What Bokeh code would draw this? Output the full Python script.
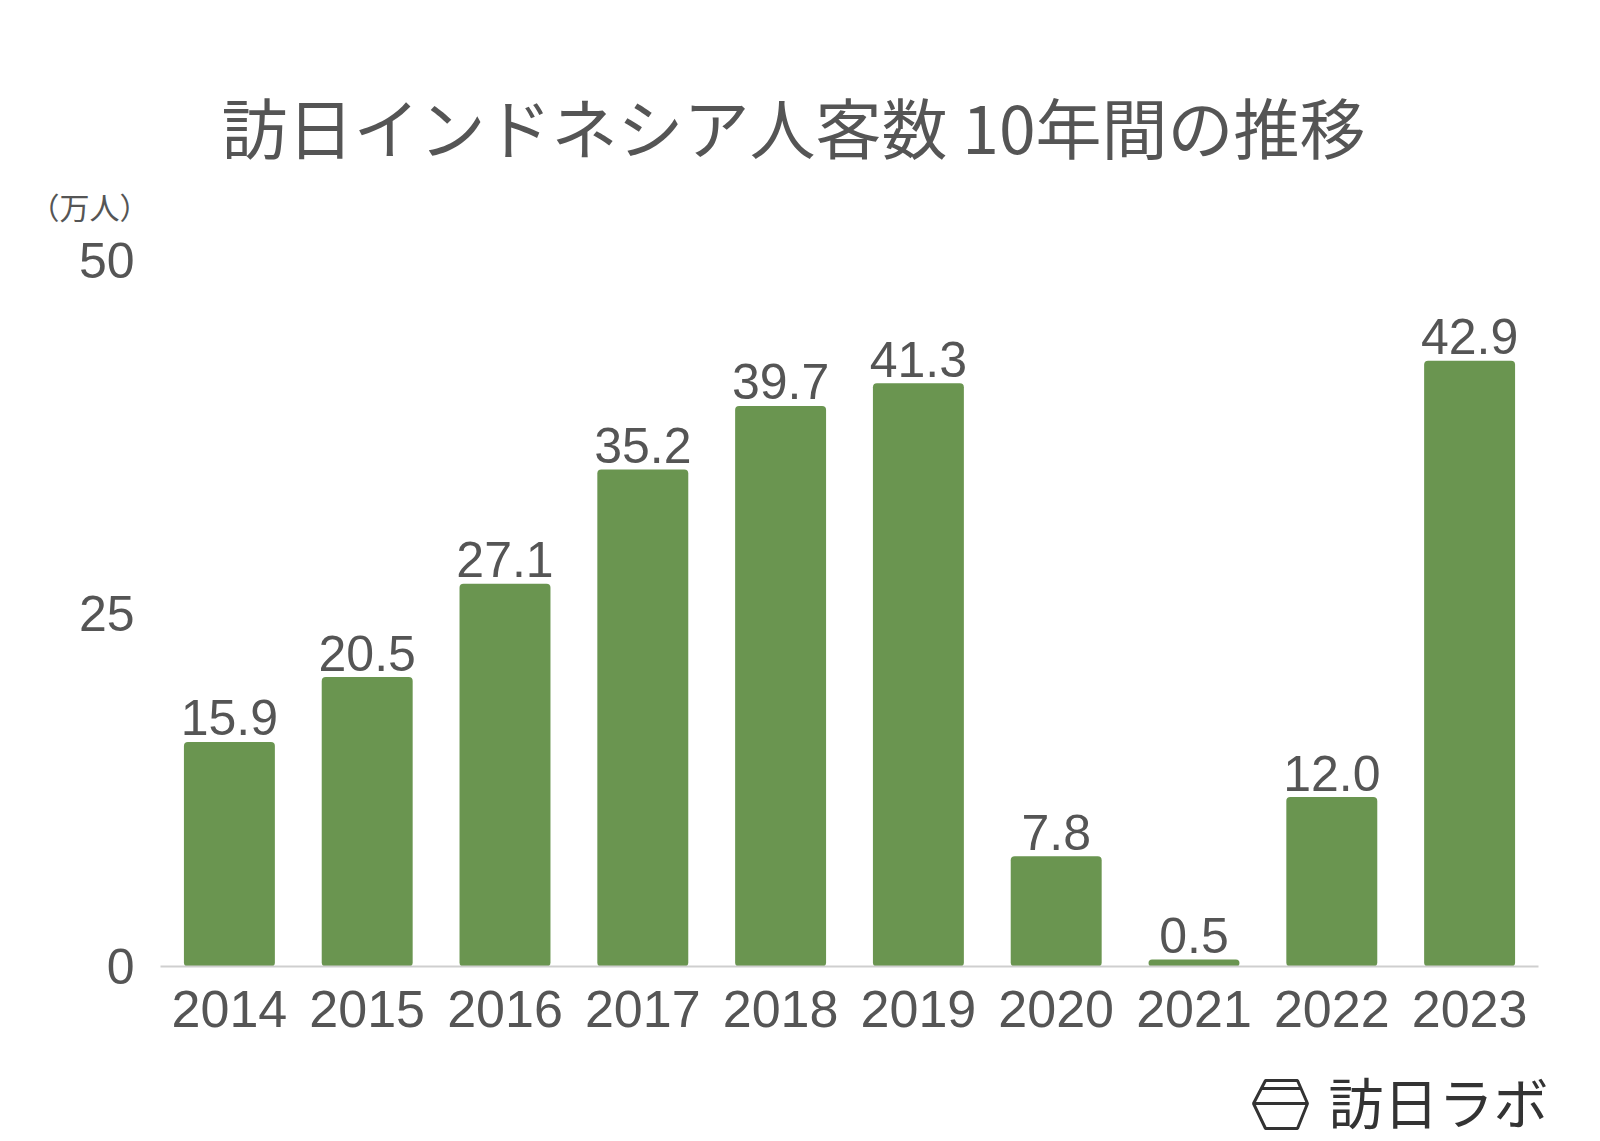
from bokeh.plotting import figure
from bokeh.layouts import column
from bokeh.models import ColumnDataSource, FixedTicker, FactorRange, Range1d
from bokeh.core.properties import value
from bokeh.embed import file_html
from bokeh.resources import INLINE

years = ["2014", "2015", "2016", "2017", "2018", "2019", "2020", "2021", "2022", "2023"]
visitors = [15.9, 20.5, 27.1, 35.2, 39.7, 41.3, 7.8, 0.5, 12.0, 42.9]
value_labels = [f"{v:.1f}" for v in visitors]
y_ticks = [0, 25, 50]
title_text = "訪日インドネシア人客数 10年間の推移"
unit_text = "（万人）"
logo_text = "訪日ラボ"

BAR = "#6a9550"
TXT = "#555555"
NUM_FONT = "Liberation Sans"
JP_FONT = "Noto Sans CJK JP"

W = 1584
TOP_H, MAIN_H, BOT_H = 228, 816, 97


def blank(h):
    f = figure(width=W, height=h, x_range=Range1d(0, W), y_range=Range1d(0, h),
               output_backend="svg", toolbar_location=None,
               x_axis_location=None, y_axis_location=None,
               min_border=0, min_border_left=0, min_border_right=0,
               min_border_top=0, min_border_bottom=0, frame_align=False)
    f.outline_line_color = None
    f.grid.visible = False
    f.background_fill_color = "white"
    f.border_fill_color = "white"
    return f


# ---- header: title and unit
top = blank(TOP_H)
top.text(x=[793], y=[TOP_H - 124], text=[title_text], text_align="center",
         text_baseline="middle", text_font_size="66px", text_color=TXT,
         text_font=value(JP_FONT))
top.text(x=[89], y=[TOP_H - 205], text=[unit_text], text_align="center",
         text_baseline="middle", text_font_size="30px", text_color=TXT,
         text_font=value(JP_FONT))

# ---- main chart
src = ColumnDataSource(dict(year=years, v=visitors, lab=value_labels))
p = figure(x_range=FactorRange(*years, range_padding=0), y_range=Range1d(0, 50),
           width=W, height=MAIN_H, output_backend="svg", toolbar_location=None,
           min_border_left=160, min_border_right=W - 1538,
           min_border_top=32, min_border_bottom=78, frame_align=False)
p.outline_line_color = None
p.xgrid.visible = False
p.ygrid.visible = False
p.background_fill_color = "white"
p.border_fill_color = "white"

p.vbar(x="year", top="v", width=0.66, source=src, fill_color=BAR, line_color=None,
       border_radius=4)
p.text(x="year", y="v", text="lab", source=src, y_offset=-24, text_align="center",
       text_baseline="alphabetic", text_font_size="50px", text_color=TXT,
       text_font=value(NUM_FONT))

p.yaxis.ticker = FixedTicker(ticks=y_ticks)
p.yaxis.axis_line_color = None
p.yaxis.major_tick_line_color = None
p.yaxis.minor_tick_line_color = None
p.yaxis.major_label_standoff = 20
p.yaxis.major_label_text_font_size = "50px"
p.yaxis.major_label_text_color = TXT
p.yaxis.major_label_text_font = NUM_FONT

p.xaxis.axis_line_color = "#cfcfcf"
p.xaxis.axis_line_width = 2
p.xaxis.major_tick_line_color = None
p.xaxis.minor_tick_line_color = None
p.xaxis.major_label_standoff = 18
p.xaxis.major_label_text_font_size = "52px"
p.xaxis.major_label_text_color = TXT
p.xaxis.major_label_text_font = NUM_FONT

# ---- footer: logo
bot = blank(BOT_H)
hex_x = [1253, 1265, 1297, 1307, 1297, 1265]
hex_y = [38, 61, 61, 38, 13, 13]
bot.patch(hex_x, hex_y, fill_color=None, line_color="#333333", line_width=3)
bot.line([1261, 1300], [53, 53], line_color="#333333", line_width=3)
bot.line([1253, 1307], [38, 38], line_color="#333333", line_width=3)
bot.text(x=[1438], y=[42], text=[logo_text], text_align="center",
         text_baseline="middle", text_font_size="55px", text_color="#333333",
         text_font=value(JP_FONT))

layout = column(top, p, bot, spacing=0)
open("out.html", "w").write(file_html(layout, INLINE))
